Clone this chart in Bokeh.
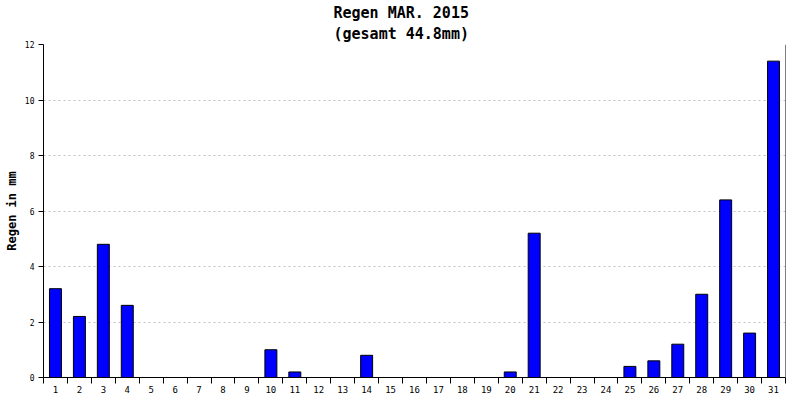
from bokeh.plotting import figure
from bokeh.models import Title, FixedTicker, Span, Range1d
from bokeh.embed import file_html
from bokeh.resources import INLINE

days = list(range(1, 32))
rain = [3.2, 2.2, 4.8, 2.6, 0, 0, 0, 0, 0, 1.0, 0.2, 0, 0, 0.8, 0, 0, 0, 0, 0, 0.2,
        5.2, 0, 0, 0, 0.4, 0.6, 1.2, 3.0, 6.4, 1.6, 11.4]
day_labels = {d: str(d) for d in days}
y_ticks = [0, 2, 4, 6, 8, 10, 12]
title_main = "Regen MAR. 2015"
title_sub = "(gesamt 44.8mm)"
y_label = "Regen in mm"

FONT = "DejaVu Sans Mono"

p = figure(width=800, height=400, output_backend="svg", toolbar_location=None,
           x_range=Range1d(0.5, 31.5), y_range=Range1d(0, 12),
           min_border_left=43, min_border_right=15, min_border_top=44, min_border_bottom=23,
           title=None)
p.outline_line_color = None

p.add_layout(Title(text=title_sub, align="left", text_font=FONT, text_font_size="15px",
                   text_font_style="bold", text_color="black", standoff=3, offset=290), "above")
p.add_layout(Title(text=title_main, align="left", text_font=FONT, text_font_size="15px",
                   text_font_style="bold", text_color="black", standoff=0, offset=290), "above")

p.vbar(x=days, top=rain, width=0.5, bottom=0, fill_color="#0000ff", line_color="black", line_width=1)

# x axis
xa = p.xaxis[0]
xa.ticker = FixedTicker(ticks=days, minor_ticks=[d + 0.5 for d in [0] + days])
xa.major_label_overrides = day_labels
xa.major_tick_out = 0
xa.major_tick_in = 0
xa.minor_tick_out = 6
xa.minor_tick_in = 0
xa.minor_tick_line_color = "black"
xa.axis_line_color = "black"
xa.major_label_text_font = FONT
xa.major_label_text_font_size = "9px"
xa.major_label_standoff = 2
xa.major_label_text_color = "black"

ya = p.yaxis[0]
ya.ticker = FixedTicker(ticks=y_ticks)
ya.major_tick_out = 5
ya.major_tick_in = 0
ya.minor_tick_out = 0
ya.minor_tick_in = 0
ya.axis_line_color = "black"
ya.major_label_text_font = FONT
ya.major_label_text_font_size = "8px"
ya.major_label_standoff = 4
ya.major_label_text_color = "black"
ya.axis_label = y_label
ya.axis_label_text_font = FONT
ya.axis_label_text_font_size = "12px"
ya.axis_label_text_font_style = "bold"
ya.axis_label_standoff = 3
ya.axis_label_text_color = "black"

p.xgrid.visible = False
p.ygrid.ticker = FixedTicker(ticks=y_ticks[1:])
p.ygrid.grid_line_color = "#c0c0c0"
p.ygrid.grid_line_dash = "2 3"
p.ygrid.grid_line_width = 1

p.add_layout(Span(location=31.5, dimension="height", line_color="black", line_width=1))

open("out.html", "w").write(file_html(p, INLINE))
